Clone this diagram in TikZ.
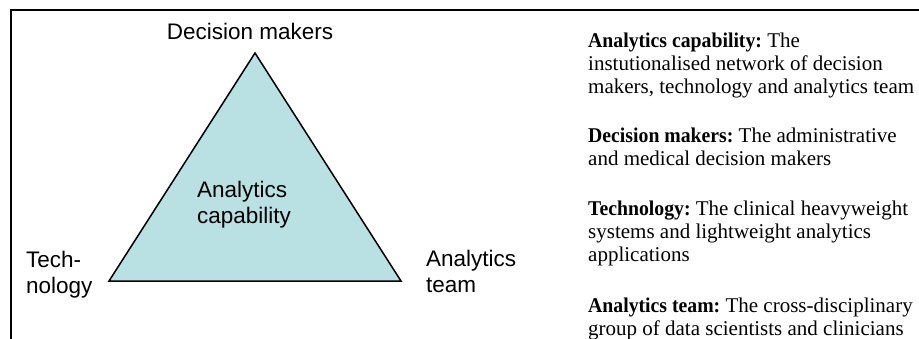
\documentclass[tikz,border=0pt]{standalone}
\usepackage{fontspec}
\setmainfont{Liberation Serif}[BoldFeatures={FakeStretch=0.94}]
\newfontfamily\arialfont{Liberation Sans}
\definecolor{trifill}{RGB}{185,224,226}
\frenchspacing
\tikzset{
  lab/.style={font=\arialfont\fontsize{22.5}{26}\selectfont, inner sep=0pt, align=left},
  desc/.style={font=\fontsize{21}{23}\selectfont, inner sep=0pt, align=left, anchor=base west},
  frame/.style={line width=2pt},
  tri/.style={fill=trifill, draw=black, line width=1.5pt, line join=miter}
}
\begin{document}
\begin{tikzpicture}[x=1pt,y=-1pt]
\useasboundingbox (0,0) rectangle (919,338);
\coordinate (fb) at (11,340);
\coordinate (fc) at (11,10);
\coordinate (fr) at (921,10);
\draw[frame] (fb) -- (fc) -- (fr);
\coordinate (top) at (255,53);
\coordinate (bl) at (109,281);
\coordinate (br) at (401,281);
\path[tri] (top) -- (bl) -- (br) -- cycle;
\node[lab, anchor=base] (dm) at (250,39) {Decision makers};
\node[lab, anchor=base west] (tech) at (26,293) {Tech-\\nology};
\node[lab, anchor=base west] (team) at (426,292) {Analytics\\team};
\node[lab, anchor=base west] (cap) at (197,223) {Analytics\\capability};
\node[desc] (d1) at (588,93) {\textbf{Analytics capability:} The\\instutionalised network of decision\\makers, technology and analytics team};
\node[desc] (d2) at (588,165) {\textbf{Decision makers:} The administrative\\and medical decision makers};
\node[desc] (d3) at (588,261) {\textbf{Technology:} The clinical heavyweight\\systems and lightweight analytics\\applications};
\node[desc] (d4) at (588,335) {\textbf{Analytics team:} The cross-disciplinary\\group of data scientists and clinicians};
\end{tikzpicture}
\end{document}
